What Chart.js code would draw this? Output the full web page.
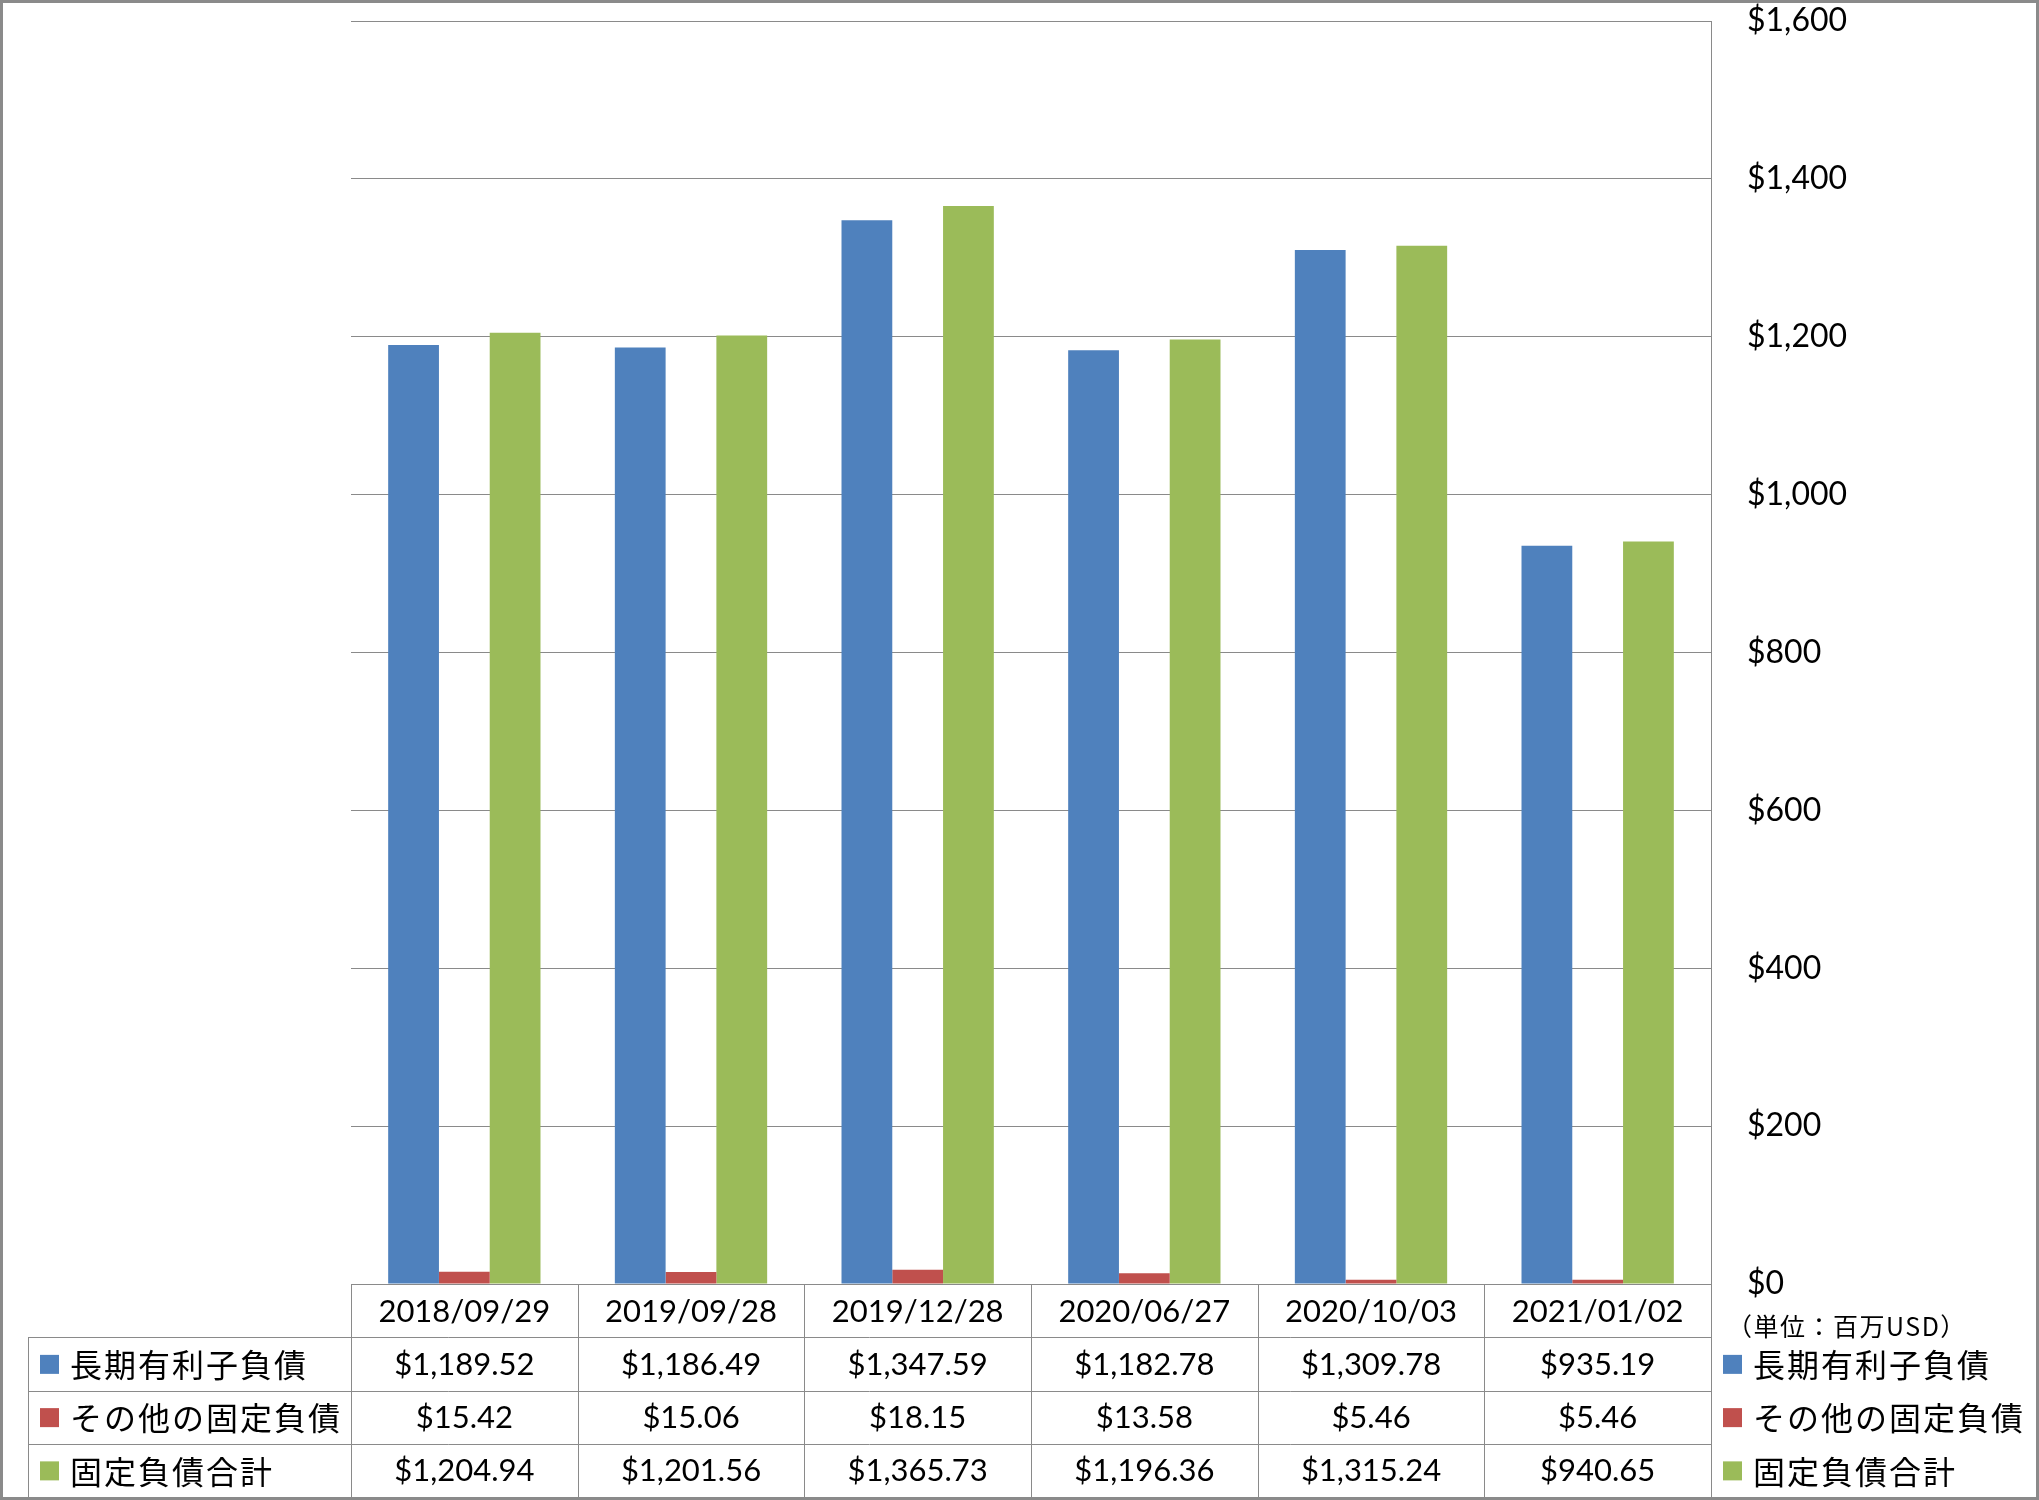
<!DOCTYPE html>
<html>
<head>
<meta charset="utf-8">
<script src="https://cdn.jsdelivr.net/npm/chart.js@4.4.1/dist/chart.umd.min.js"></script>
<style>
  html, body { margin: 0; padding: 0; background: #fff; }
  canvas { display: block; }
</style>
</head>
<body>
<canvas id="chart" width="2039" height="1500"></canvas>
<script>
const categories = ["2018/09/29", "2019/09/28", "2019/12/28", "2020/06/27", "2020/10/03", "2021/01/02"];
const longTermDebt = [1189.52, 1186.49, 1347.59, 1182.78, 1309.78, 935.19];
const otherFixed = [15.42, 15.06, 18.15, 13.58, 5.46, 5.46];
const totalFixed = [1204.94, 1201.56, 1365.73, 1196.36, 1315.24, 940.65];
const seriesNames = ["長期有利子負債", "その他の固定負債", "固定負債合計"];
const seriesColors = ["#4F81BD", "#C0504D", "#9BBB59"];
const yMin = 0, yMax = 1600, yStep = 200;
const unitLabel = "（単位：百万USD）";

const NUM_FONT = "31px Lato";
const JP_FONT = "32px 'Noto Sans CJK JP'";
const LINE = "#8a8a8a";

function money(v) {
  return "$" + v.toLocaleString("en-US", { minimumFractionDigits: 2, maximumFractionDigits: 2 });
}

function hline(ctx, x1, x2, y) {
  ctx.beginPath();
  ctx.moveTo(x1, Math.round(y) + 0.5);
  ctx.lineTo(x2, Math.round(y) + 0.5);
  ctx.stroke();
}
function vline(ctx, x, y1, y2) {
  ctx.beginPath();
  ctx.moveTo(Math.round(x) + 0.5, y1);
  ctx.lineTo(Math.round(x) + 0.5, y2);
  ctx.stroke();
}

// data table + legends below the plot, drawn after the chart
const tablePlugin = {
  id: "dataTable",
  afterDraw(chart) {
    const ctx = chart.ctx;
    const area = chart.chartArea;
    const n = categories.length;
    const colW = (area.right - area.left) / n;
    const rowH = (1497 - area.bottom) / 4;
    const rows = [longTermDebt, otherFixed, totalFixed];
    const legendLeft = 28;

    ctx.save();
    ctx.strokeStyle = LINE;
    ctx.lineWidth = 1;

    // horizontal lines
    hline(ctx, area.left, area.right, area.bottom);
    for (let r = 1; r <= 4; r++) {
      hline(ctx, legendLeft, area.right, area.bottom + r * rowH);
    }
    // vertical lines
    for (let c = 0; c <= n; c++) {
      vline(ctx, area.left + c * colW, area.bottom, area.bottom + 4 * rowH);
    }
    vline(ctx, legendLeft, area.bottom + rowH, area.bottom + 4 * rowH);

    ctx.fillStyle = "#000";
    ctx.textBaseline = "middle";
    ctx.textAlign = "center";
    ctx.font = NUM_FONT;
    for (let c = 0; c < n; c++) {
      const cx = chart.scales.x.getPixelForValue(c);
      ctx.fillText(categories[c], cx, area.bottom + rowH / 2 + 1);
      rows.forEach((vals, r) => {
        ctx.fillText(money(vals[c]), cx, area.bottom + (r + 1.5) * rowH + 1);
      });
    }

    // legend keys: left in table, right beside it
    ctx.textAlign = "left";
    ctx.font = JP_FONT;
    ctx.letterSpacing = "2px";
    seriesNames.forEach((name, r) => {
      const cy = area.bottom + (r + 1.5) * rowH;
      ctx.fillStyle = seriesColors[r];
      ctx.fillRect(40, cy - 9, 19, 19);
      ctx.fillRect(1723, cy - 9, 19, 19);
      ctx.fillStyle = "#000";
      ctx.fillText(name, 70, cy + 1);
      ctx.fillText(name, 1753, cy + 1);
    });

    ctx.font = "25px 'Noto Sans CJK JP'";
    ctx.letterSpacing = "1.5px";
    ctx.fillText(unitLabel, 1727, 1326);
    ctx.letterSpacing = "0px";

    // outer frame
    ctx.strokeStyle = "#8a8a8a";
    ctx.lineWidth = 3;
    ctx.strokeRect(1.5, 1.5, chart.width - 3, chart.height - 3);
    ctx.restore();
  }
};

const ctx = document.getElementById("chart");
new Chart(ctx, {
  type: "bar",
  data: {
    labels: categories,
    datasets: [longTermDebt, otherFixed, totalFixed].map((d, i) => ({
      label: seriesNames[i],
      data: d,
      backgroundColor: seriesColors[i],
      borderWidth: 0,
      barPercentage: 1,
      categoryPercentage: 0.672,
    })),
  },
  options: {
    responsive: false,
    animation: false,
    layout: { padding: { left: 351, top: 21, right: 0, bottom: 216 } },
    plugins: { legend: { display: false }, tooltip: { enabled: false } },
    scales: {
      x: { display: false },
      y: {
        position: "right",
        min: yMin,
        max: yMax,
        ticks: {
          stepSize: yStep,
          padding: 36,
          color: "#000",
          font: { family: "Lato", size: 32 },
          callback: v => "$" + v.toLocaleString("en-US"),
        },
        grid: { color: "#8a8a8a", lineWidth: 1, drawTicks: false },
        border: { display: true, color: "#8a8a8a", width: 1 },
        afterFit(scale) {
          scale.width = 2039 - 1711;
          scale.paddingTop = 0;
          scale.paddingBottom = 0;
        },
      },
    },
  },
  plugins: [tablePlugin],
});
</script>
</body>
</html>
